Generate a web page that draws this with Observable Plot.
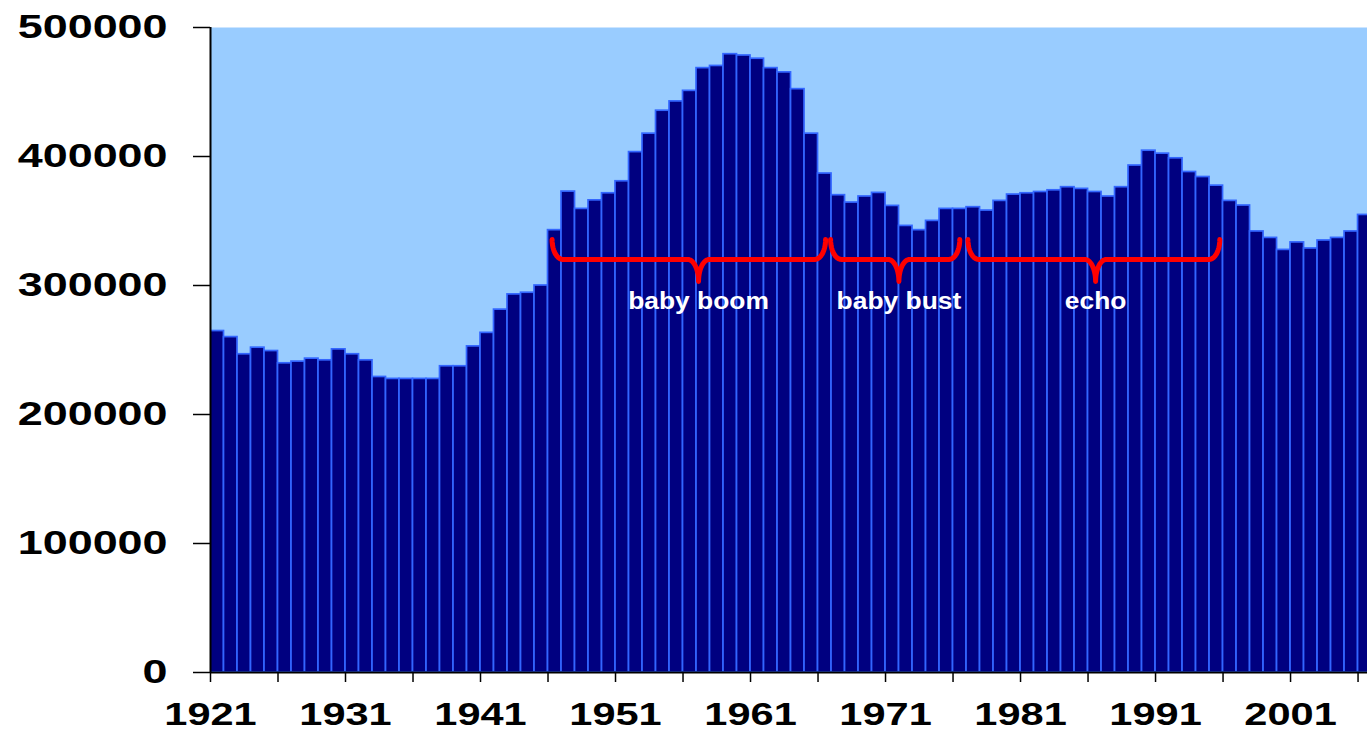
<!DOCTYPE html>
<html>
<head>
<meta charset="utf-8">
<script src="https://cdn.jsdelivr.net/npm/d3@7"></script>
<script src="https://cdn.jsdelivr.net/npm/@observablehq/plot@0.6"></script>
<style>
  html, body { margin: 0; padding: 0; background: #ffffff; overflow: hidden; }
  #chart svg { display: block; }
</style>
</head>
<body>
<div id="chart"></div>
<script>
// ---- Data ----
const years = [
  1921,1922,1923,1924,1925,1926,1927,1928,1929,1930,
  1931,1932,1933,1934,1935,1936,1937,1938,1939,1940,
  1941,1942,1943,1944,1945,1946,1947,1948,1949,1950,
  1951,1952,1953,1954,1955,1956,1957,1958,1959,1960,
  1961,1962,1963,1964,1965,1966,1967,1968,1969,1970,
  1971,1972,1973,1974,1975,1976,1977,1978,1979,1980,
  1981,1982,1983,1984,1985,1986,1987,1988,1989,1990,
  1991,1992,1993,1994,1995,1996,1997,1998,1999,2000,
  2001,2002,2003,2004,2005,2006
];
const births = [
  264700,260000,246700,251800,249200,239700,241000,243300,242000,250500,
  246700,242000,229100,227600,227600,227600,227600,237400,237400,252800,
  263300,281300,293100,294400,300000,342900,372800,359400,366000,371500,
  380800,403400,417700,435500,442700,450900,468500,470200,479300,478300,
  475800,468500,465200,452200,417700,386800,370000,364300,369000,371800,
  361700,346200,342900,350100,359400,359400,360700,358100,365600,370500,
  371500,372500,373800,376200,374900,372500,369000,376200,393000,404500,
  402200,398600,388000,384100,377400,365600,362000,341900,336900,327600,
  333400,328700,334900,336900,341900,354700
];
const yTicks = [0, 100000, 200000, 300000, 400000, 500000];
const xMinorTicks = [1921,1926,1931,1936,1941,1946,1951,1956,1961,1966,1971,1976,1981,1986,1991,1996,2001,2006];
const xLabelTicks = [1921,1931,1941,1951,1961,1971,1981,1991,2001];

// Annotation braces: label, start year, tip year, end year
const braceNames = ["baby boom", "baby bust", "echo"];
const braceStart = [1946.3, 1966.93, 1977.1];
const braceTip   = [1957.15, 1971.99, 1986.56];
const braceEnd   = [1966.56, 1976.5, 1995.76];
const braceEndY = 335700, braceMidY = 320200, braceTipY = 303100, braceLabelY = 281400;

// ---- Build tables ----
const data = years.map((year, i) => ({year, value: births[i]}));
const braces = braceNames.map((name, i) => ({name, start: braceStart[i], tip: braceTip[i], end: braceEnd[i]}));

function bracePath(b) {
  const rx = 0.8, n = 14, pts = [];
  const h1 = braceEndY - braceMidY, h2 = braceMidY - braceTipY;
  for (let i = 0; i <= n; i++) { const t = i / n * Math.PI / 2;
    pts.push({name: b.name, x: b.start + rx - rx * Math.cos(t), y: braceEndY - h1 * Math.sin(t)}); }
  for (let i = 0; i <= n; i++) { const t = i / n * Math.PI / 2;
    pts.push({name: b.name, x: b.tip - rx + rx * Math.sin(t), y: braceTipY + h2 * Math.cos(t)}); }
  for (let i = n; i >= 0; i--) { const t = i / n * Math.PI / 2;
    pts.push({name: b.name, x: b.tip + rx - rx * Math.sin(t), y: braceTipY + h2 * Math.cos(t)}); }
  for (let i = n; i >= 0; i--) { const t = i / n * Math.PI / 2;
    pts.push({name: b.name, x: b.end - rx + rx * Math.cos(t), y: braceEndY - h1 * Math.sin(t)}); }
  return pts;
}
const bracePoints = braces.flatMap(bracePath);

const FONT = "'Liberation Sans', Arial, sans-serif";

const chart = Plot.plot({
  width: 1367,
  height: 731,
  marginLeft: 210,
  marginRight: 0,
  marginTop: 27,
  marginBottom: 59,
  style: {fontFamily: FONT, color: "#000", background: "#fff", overflow: "hidden"},
  x: {type: "linear", domain: [1921, 2006.7], axis: null},
  y: {domain: [0, 500000], axis: null},
  marks: [
    Plot.frame({fill: "#99CCFF", stroke: null}),
    Plot.rectY(data, {
      x1: "year", x2: d => d.year + 1, y: "value",
      fill: "#000080", stroke: "#3366FF", strokeWidth: 1.7, clip: true
    }),
    Plot.line(bracePoints, {
      x: "x", y: "y", z: "name", stroke: "#FF0000", strokeWidth: 5,
      strokeLinecap: "round", strokeLinejoin: "round"
    }),
    Plot.text(braces, {
      x: "tip", y: () => braceLabelY, text: "name", fill: "#ffffff",
      fontSize: 24, fontWeight: "bold", fontFamily: FONT, lineAnchor: "bottom", textAnchor: "middle"
    }),
    Plot.axisY({
      ticks: yTicks, tickSize: 17, tickPadding: 26, tickFormat: d => String(d),
      fontSize: 33, fontWeight: "bold", fontFamily: FONT, stroke: "#000", fill: "#000", strokeWidth: 1.5
    }),
    Plot.axisX({
      ticks: xMinorTicks, tickSize: 10, tickFormat: () => "", strokeWidth: 1.5, stroke: "#000"
    }),
    Plot.axisX({
      ticks: xLabelTicks, tickSize: 0, tickPadding: 30.5, tickFormat: d => String(d),
      fontSize: 31, fontWeight: "bold", fontFamily: FONT, fill: "#000"
    }),
    Plot.ruleX([1921], {stroke: "#000", strokeWidth: 2}),
    Plot.ruleY([0], {stroke: "#000", strokeWidth: 2})
  ]
});

document.getElementById("chart").appendChild(chart);

// Widen the lettering to match the horizontally stretched text of the original
function stretch(selector, s) {
  chart.querySelectorAll(selector).forEach(el => {
    const x = +(el.getAttribute("x") || 0);
    const tr = el.getAttribute("transform") || "";
    el.setAttribute("transform", `${tr} translate(${x},0) scale(${s},1) translate(${-x},0)`);
  });
}
stretch('g[aria-label="y-axis tick label"] text', 1.36);
stretch('g[aria-label="x-axis tick label"] text', 1.34);
stretch('g[aria-label="text"] text', 1.1);
</script>
</body>
</html>
